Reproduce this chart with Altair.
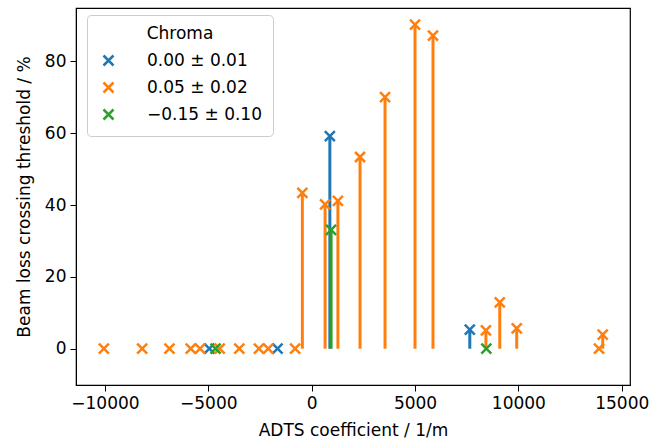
import altair as alt
import pandas as pd

# ADTS coefficient (1/m) and beam-loss fraction (%) per chroma setting
chroma_labels = ["0.00 \u00b1 0.01", "0.05 \u00b1 0.02", "\u22120.15 \u00b1 0.10"]
chroma_colors = ["#1f77b4", "#ff7f0e", "#2ca02c"]

blue_x = [-4950, -1650, 880, 7650]
blue_y = [0, 0, 59.2, 5.3]

orange_x = [-10050, -8200, -6880, -5850, -5400, -4450, -3500, -2550, -2100, -800,
            -450, 650, 1270, 2340, 3550, 5000, 5870, 8430, 9100, 9920, 13900, 14080]
orange_y = [0, 0, 0, 0, 0, 0, 0, 0, 0, 0,
            43.4, 40.2, 41.2, 53.4, 70.1, 90.3, 87.2, 5.1, 12.9, 5.7, 0, 3.9]

green_x = [-4650, 940, 8450]
green_y = [0, 33.1, 0]

x_ticks = [-10000, -5000, 0, 5000, 10000, 15000]
y_ticks = [0, 20, 40, 60, 80]

rows = []
for label, xs, ys in zip(chroma_labels, [blue_x, orange_x, green_x], [blue_y, orange_y, green_y]):
    for xv, yv in zip(xs, ys):
        rows.append({"adts": xv, "loss": yv, "base": 0, "chroma": label})
df = pd.DataFrame(rows)

FONT = "DejaVu Sans"
FS = 17
X_SHAPE = "M-1,-1L1,1M1,-1L-1,1"

legend = alt.Legend(
    title="Chroma",
    orient="none",
    legendX=11,
    legendY=7,
    titleAnchor="middle",
    titleFontWeight="normal",
    titleFontSize=FS,
    titleFont=FONT,
    titleColor="black",
    titlePadding=9,
    labelFont=FONT,
    labelFontSize=FS,
    labelColor="black",
    labelOffset=30,
    symbolOffset=2,
    symbolType=X_SHAPE,
    symbolSize=100,
    symbolStrokeWidth=2.5,
    symbolFillColor="transparent",
    rowPadding=6,
    padding=11,
    fillColor="white",
    strokeColor="#cccccc",
    cornerRadius=4,
)

color = alt.Color(
    "chroma:N",
    scale=alt.Scale(domain=chroma_labels, range=chroma_colors),
    sort=chroma_labels,
    legend=legend,
)

x_enc = alt.X(
    "adts:Q",
    scale=alt.Scale(domain=[-11400, 15400], nice=False, zero=False),
    axis=alt.Axis(values=x_ticks, format="d", title="ADTS coefficient / 1/m", titlePadding=11),
)
y_axis = alt.Axis(values=y_ticks, format="d", title="Beam loss crossing threshold / %", titlePadding=11)
y_scale = alt.Scale(domain=[-10.1, 94.9], nice=False, zero=False)

stems = alt.Chart(df).mark_rule(strokeWidth=3).encode(
    x=x_enc,
    y=alt.Y("base:Q", scale=y_scale, axis=y_axis),
    y2="loss:Q",
    color=color,
)

markers = alt.Chart(df).mark_point(
    shape=X_SHAPE, filled=False, size=100, strokeWidth=2.5, opacity=1
).encode(
    x=x_enc,
    y=alt.Y("loss:Q", scale=y_scale, axis=y_axis),
    color=color,
)

chart = (
    alt.layer(stems, markers)
    .properties(
        width=554,
        height=377,
        autosize=alt.AutoSizeParams(type="none"),
        padding={"left": 76, "top": 8, "right": 35, "bottom": 56},
    )
    .configure_view(stroke="black", strokeWidth=1.2)
    .configure_axis(
        grid=False,
        domainColor="black",
        tickColor="black",
        tickSize=6,
        labelPadding=4,
        labelFont=FONT,
        labelFontSize=FS,
        labelColor="black",
        titleFont=FONT,
        titleFontSize=FS,
        titleFontWeight="normal",
        titleColor="black",
    )
)

chart.save("out.html", embed_options={"renderer": "svg", "actions": False})
